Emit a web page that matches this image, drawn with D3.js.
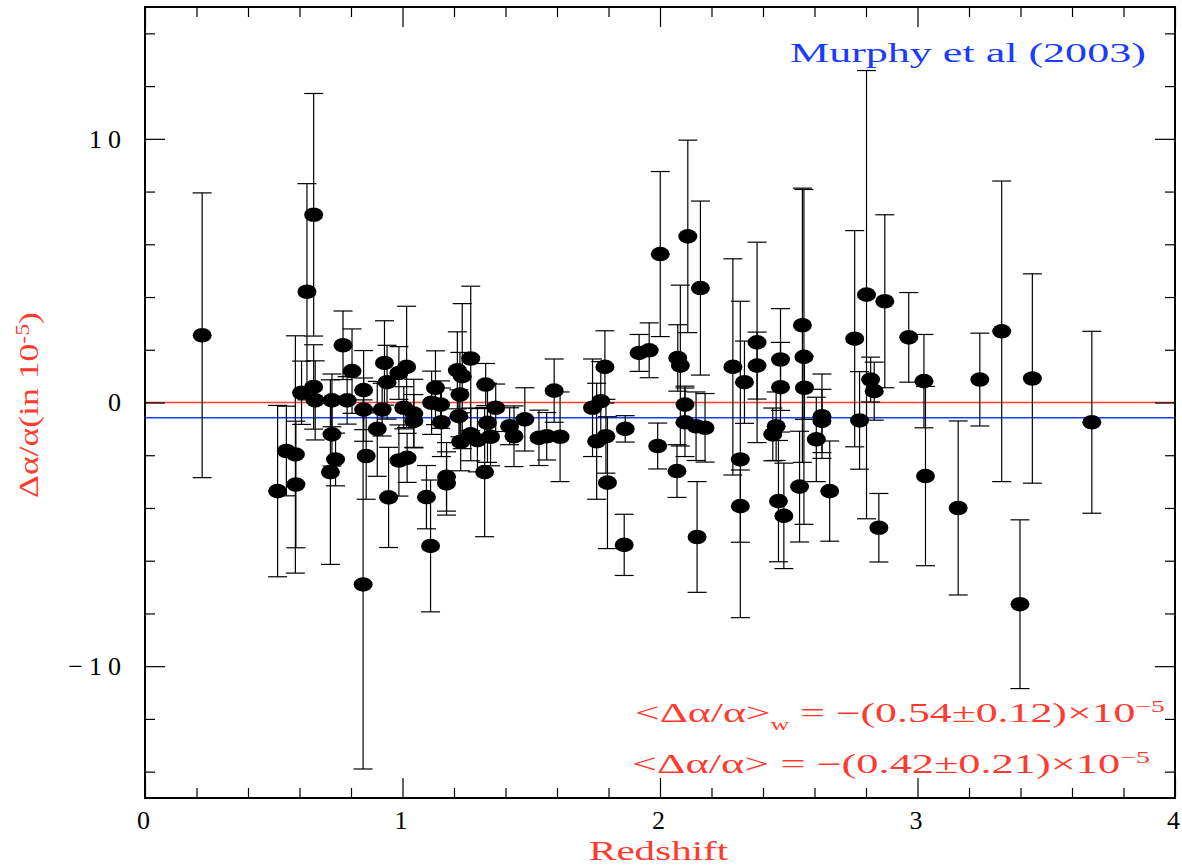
<!DOCTYPE html>
<html>
<head>
<meta charset="utf-8">
<script src="https://cdn.jsdelivr.net/npm/d3@7"></script>
<style>
  body { margin: 0; background: #fff; }
  text { font-family: "Liberation Serif", "DejaVu Serif", serif; }
</style>
</head>
<body>
<svg id="chart" width="1182" height="866"></svg>
<script>
// Quasar absorption systems: redshift, fine-structure constant shift (in 1e-5) and 1-sigma error
const redshift = [
  0.222, 0.515, 0.549, 0.584, 0.586, 0.608, 0.629, 0.655, 0.655, 0.661,
  0.726, 0.726, 0.740, 0.720, 0.769, 0.785, 0.804, 0.849, 0.849, 0.859,
  0.847, 0.902, 0.921, 0.930, 0.940, 0.946, 0.986, 0.986, 1.016, 1.005,
  1.018, 1.044, 1.044, 1.093, 1.109, 1.113, 1.128, 1.148, 1.151, 1.171,
  1.171, 1.213, 1.232, 1.223, 1.219, 1.265, 1.226, 1.265, 1.291, 1.323,
  1.319, 1.330, 1.342, 1.362, 1.416, 1.433, 1.475, 1.530, 1.560, 1.589,
  1.612, 1.738, 1.770, 1.754, 1.786, 1.790, 1.796, 1.861, 1.865, 1.919,
  1.958, 2.001, 1.991, 2.066, 2.069, 2.079, 2.097, 2.108, 2.097, 2.140,
  2.175, 2.157, 2.144, 2.283, 2.312, 2.312, 2.328, 2.377, 2.377, 2.468,
  2.468, 2.451, 2.438, 2.460, 2.481, 2.553, 2.559, 2.561, 2.542, 2.629,
  2.629, 2.607, 2.659, 2.756, 2.775, 2.802, 2.818, 2.832, 2.850, 2.873,
  2.966, 3.025, 3.031, 3.158, 3.242, 3.327, 3.446, 3.398, 3.677
];
const deltaAlpha = [
  2.55, -3.36, -1.84, -1.97, -3.11, 0.37, 4.20, 7.12, 0.59, 0.08,
  0.08, -1.21, -2.16, -2.64, 2.17, 0.08, 1.19, 0.47, -0.27, -2.03,
  -6.90, -1.00, -0.27, 1.50, 0.77, -3.60, -2.20, 1.12, 1.35, -0.20,
  -2.10, -0.70, -0.42, -3.59, -5.44, -0.01, 0.56, -0.08, -0.75, -2.82,
  -3.07, 1.22, 1.00, 0.30, -0.52, 1.67, -1.49, -1.21, -1.43, 0.68,
  -2.64, -0.77, -1.30, -0.20, -0.90, -1.28, -0.64, -1.34, -1.28, 0.45,
  -1.30, -0.20, 0.05, -1.47, 1.35, -1.28, -3.04, -5.40, -1.00, 1.88,
  1.98, 5.63, -1.65, -2.60, 1.69, 1.40, -0.08, 6.30, -0.75, -0.90,
  -0.96, 4.34, -5.10, 1.35, -2.16, -3.93, 0.77, 2.28, 1.40, 1.63,
  0.58, -0.90, -1.21, -3.74, -4.30, 2.93, 1.73, 0.56, -3.19, -0.52,
  -0.70, -1.40, -3.36, 2.42, -0.68, 4.09, 0.87, 0.43, -4.75, 3.84,
  2.47, 0.81, -2.79, -4.00, 0.87, 2.70, 0.91, -7.65, -0.75
];
const sigma = [
  5.40, 3.25, 1.70, 4.50, 2.40, 1.20, 4.10, 4.60, 1.60, 1.50,
  1.00, 1.20, 1.00, 3.50, 1.30, 0.90, 1.60, 1.50, 1.20, 1.64,
  7.00, 1.80, 1.00, 1.60, 1.40, 1.90, 1.35, 1.00, 2.30, 0.80,
  0.93, 1.00, 1.30, 1.20, 2.50, 1.20, 1.40, 0.90, 1.30, 1.30,
  1.20, 1.46, 2.75, 1.60, 1.00, 2.74, 1.10, 1.00, 1.20, 0.80,
  2.45, 1.50, 1.10, 0.90, 0.70, 1.15, 1.20, 1.05, 0.90, 1.20,
  1.70, 1.85, 1.50, 2.20, 1.37, 1.40, 2.50, 1.16, 0.50, 0.70,
  1.04, 3.13, 0.87, 1.00, 1.26, 3.05, 0.70, 3.65, 1.30, 1.30,
  1.30, 3.30, 2.10, 4.10, 6.00, 1.37, 1.56, 3.80, 1.27, 1.93,
  1.70, 1.30, 1.00, 2.30, 2.00, 5.20, 6.35, 1.20, 2.10, 1.60,
  1.20, 1.60, 1.90, 4.10, 1.85, 8.50, 0.85, 1.10, 1.30, 3.28,
  1.70, 1.77, 3.40, 3.30, 1.76, 5.70, 3.97, 3.20, 3.45
];

// Axis ticks
const xMajorTicks = [0, 1, 2, 3, 4];
const xMinorTicks = d3.range(0, 4.0001, 0.2).map(v => +v.toFixed(1)).filter(v => !xMajorTicks.includes(v));
const yMajorTicks = [-10, 0, 10];
const yMinorTicks = d3.range(-14, 15, 2).filter(v => !yMajorTicks.includes(v));

// Reference levels: zero shift and the weighted mean
const zeroLevel = 0;
const weightedMean = -0.58;

const RED = "#ff3b2f";
const BLUE = "#1a3cff";

const svg = d3.select("#chart");
const W = 1182, H = 866;
const plot = { left: 145, right: 1175, top: 7, bottom: 798 };

const x = d3.scaleLinear().domain([0, 4]).range([plot.left, plot.right]);
const y = d3.scaleLinear().domain([-15, 15]).range([plot.bottom, plot.top]);

svg.append("rect").attr("width", W).attr("height", H).attr("fill", "#fff");

// Horizontal reference lines
svg.append("line")
  .attr("x1", plot.left).attr("x2", plot.right)
  .attr("y1", y(zeroLevel)).attr("y2", y(zeroLevel))
  .attr("stroke", RED).attr("stroke-width", 1.3);
svg.append("line")
  .attr("x1", plot.left).attr("x2", plot.right)
  .attr("y1", y(weightedMean)).attr("y2", y(weightedMean))
  .attr("stroke", BLUE).attr("stroke-width", 1.5);

// Data with error bars
const data = redshift.map((z, i) => ({ z, v: deltaAlpha[i], e: sigma[i] }));
const capHalf = 9.5;
const bars = svg.append("g").attr("stroke", "#000").attr("stroke-width", 1.2).attr("fill", "none");
data.forEach(d => {
  const cx = x(d.z), top = y(d.v + d.e), bot = y(d.v - d.e);
  bars.append("line").attr("x1", cx).attr("x2", cx).attr("y1", top).attr("y2", bot);
  bars.append("line").attr("x1", cx - capHalf).attr("x2", cx + capHalf).attr("y1", top).attr("y2", top);
  bars.append("line").attr("x1", cx - capHalf).attr("x2", cx + capHalf).attr("y1", bot).attr("y2", bot);
});
svg.append("g").selectAll("ellipse").data(data).join("ellipse")
  .attr("cx", d => x(d.z)).attr("cy", d => y(d.v))
  .attr("rx", 9.5).attr("ry", 7.3).attr("fill", "#000");

// Axes with inward ticks on all four sides
function styleAxis(g, spacing) {
  g.select(".domain").remove();
  g.selectAll(".tick line").attr("stroke", "#000").attr("stroke-width", 1.2);
  g.selectAll(".tick text")
    .attr("fill", "#000")
    .style("font-family", '"Liberation Serif", serif')
    .style("font-size", "26px")
    .attr("letter-spacing", spacing || "0px");
}
const gB = svg.append("g").attr("transform", `translate(0,${plot.bottom})`);
gB.append("g").call(d3.axisBottom(x).tickValues(xMinorTicks).tickSize(-10).tickFormat("")).call(styleAxis);
gB.append("g").call(d3.axisBottom(x).tickValues(xMajorTicks).tickSize(-20).tickPadding(13).tickFormat(d3.format("d"))).call(styleAxis);
gB.selectAll(".tick text").attr("dx", -2);

const gT = svg.append("g").attr("transform", `translate(0,${plot.top})`);
gT.append("g").call(d3.axisTop(x).tickValues(xMinorTicks).tickSize(-10).tickFormat("")).call(styleAxis);
gT.append("g").call(d3.axisTop(x).tickValues(xMajorTicks).tickSize(-20).tickFormat("")).call(styleAxis);

const gL = svg.append("g").attr("transform", `translate(${plot.left},0)`);
gL.append("g").call(d3.axisLeft(y).tickValues(yMinorTicks).tickSize(-10).tickFormat("")).call(styleAxis);
gL.append("g").call(d3.axisLeft(y).tickValues(yMajorTicks).tickSize(-20).tickPadding(18)
  .tickFormat(d => d < 0 ? "\u2212" + Math.abs(d) : String(d))).call(g => styleAxis(g, "6px"));

const gR = svg.append("g").attr("transform", `translate(${plot.right},0)`);
gR.append("g").call(d3.axisRight(y).tickValues(yMinorTicks).tickSize(-10).tickFormat("")).call(styleAxis);
gR.append("g").call(d3.axisRight(y).tickValues(yMajorTicks).tickSize(-20).tickFormat("")).call(styleAxis);

// Frame
svg.append("rect")
  .attr("x", plot.left).attr("y", plot.top)
  .attr("width", plot.right - plot.left).attr("height", plot.bottom - plot.top)
  .attr("fill", "none").attr("stroke", "#000").attr("stroke-width", 2);

// Stretch a text element horizontally to a given width
function fitWidth(sel, width, transformPrefix) {
  sel.attr("x", 0).attr("y", 0);
  const w = sel.node().getBBox().width;
  sel.attr("transform", `${transformPrefix} scale(${width / w},1)`);
}

// Axis titles
const xTitle = svg.append("text").attr("fill", RED).style("font-size", "27px").text("Redshift");
fitWidth(xTitle, 140, `translate(589,860)`);

const yTitle = svg.append("text").attr("fill", RED).style("font-size", "27px");
yTitle.append("tspan").text("\u0394\u03b1/\u03b1(in 10");
yTitle.append("tspan").attr("dy", -9).style("font-size", "18px").text("-5");
yTitle.append("tspan").attr("dy", 9).text(")");
fitWidth(yTitle, 186, `translate(38,498) rotate(-90)`);

// Source label
const src = svg.append("text").attr("fill", BLUE).style("font-size", "27px").text("Murphy et al (2003)");
fitWidth(src, 356, `translate(790,62)`);

// Mean values
const m1 = svg.append("text").attr("fill", RED).style("font-size", "27px");
m1.append("tspan").text("<\u0394\u03b1/\u03b1>");
m1.append("tspan").attr("dy", 8).style("font-size", "16px").text("w");
m1.append("tspan").attr("dy", -8).text(" = \u2212(0.54\u00b10.12)\u00d710");
m1.append("tspan").attr("dy", -10).style("font-size", "17px").text("\u22125");
fitWidth(m1, 530, `translate(635,722)`);

const m2 = svg.append("text").attr("fill", RED).style("font-size", "27px");
m2.append("tspan").text("<\u0394\u03b1/\u03b1> = \u2212(0.42\u00b10.21)\u00d710");
m2.append("tspan").attr("dy", -10).style("font-size", "17px").text("\u22125");
fitWidth(m2, 518, `translate(632,773)`);
</script>
</body>
</html>
